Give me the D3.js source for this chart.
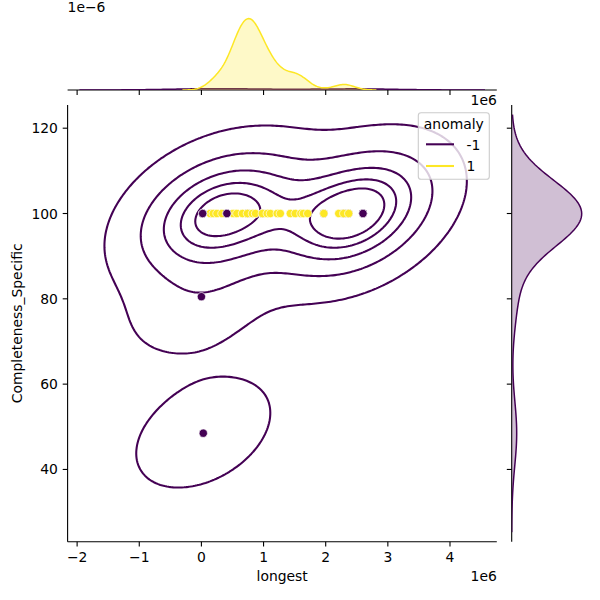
<!DOCTYPE html>
<html><head><meta charset="utf-8">
<script src="https://cdn.jsdelivr.net/npm/d3@7"></script>
<style>body{margin:0;background:#fff} text{font-family:"DejaVu Sans",sans-serif;fill:#000}</style>
</head><body>
<svg id="c" width="600" height="600"></svg>
<script>
// ---------- data (longest in raw units, Completeness_Specific in %) ----------
const purpleX = [20000,20000,20000,410000,410000,740000,980000,1970000,2290000,2370000,2600000,2600000,2600000,2600000,0,30000];
const purpleY = [100,100,100,100,100,100,100,100,100,100,100,100,100,100,80.5,48.5];
const yellowX = [140000,190000,250000,330000,510000,570000,660000,740000,820000,870000,980000,1060000,1110000,1220000,1270000,1430000,1510000,1600000,1640000,1710000,1970000,2210000,2290000,2370000];
const yellowCount = [2,2,4,10,16,18,22,24,22,20,18,10,8,8,6,8,6,4,4,2,1,2,3,3];
const yellowY = 100;
const xTicks = [-2,-1,0,1,2,3,4];
const yTicks = [40,60,80,100,120];
const hueLabels = ["-1","1"];
const hueColors = ["#440154","#fde725"];
const isoProps = [0.05,0.24,0.43,0.62,0.81];

// ---------- layout ----------
const J = {x0:67.6, x1:496.8, y0:105, y1:541.7};
const TM = {y0:15, y1:90};
const RM = {x0:511.7, x1:585.2};
const FS = 13.9;
const svg = d3.select("#c");

// ---------- KDE helpers ----------
function kde2d(xs, ys, G){
  const n = xs.length, mx = d3.mean(xs), my = d3.mean(ys);
  let sxx=0, syy=0, sxy=0;
  for(let i=0;i<n;i++){const dx=xs[i]-mx, dy=ys[i]-my; sxx+=dx*dx; syy+=dy*dy; sxy+=dx*dy;}
  sxx/=(n-1); syy/=(n-1); sxy/=(n-1);
  const f2 = Math.pow(n,-2/6);
  const a=sxx*f2, b=sxy*f2, c=syy*f2, det=a*c-b*b;
  const ia=c/det, ib=-b/det, ic=a/det;
  const bwx=Math.sqrt(a), bwy=Math.sqrt(c);
  const gx0=d3.min(xs)-3*bwx, gx1=d3.max(xs)+3*bwx;
  const gy0=d3.min(ys)-3*bwy, gy1=d3.max(ys)+3*bwy;
  const dx=(gx1-gx0)/(G-1), dy=(gy1-gy0)/(G-1);
  const norm=1/(2*Math.PI*Math.sqrt(det)*n);
  const vals=new Float64Array(G*G);
  for(let j=0;j<G;j++){const y=gy0+j*dy;
    for(let i=0;i<G;i++){const x=gx0+i*dx; let s=0;
      for(let k=0;k<n;k++){const u=x-xs[k], v=y-ys[k]; s+=Math.exp(-0.5*(ia*u*u+2*ib*u*v+ic*v*v));}
      vals[j*G+i]=s*norm;}}
  return {vals,gx0,gx1,gy0,gy1,dx,dy,G};
}
function kde1d(v, w, G){
  const n=d3.sum(w), m=d3.sum(v,(d,i)=>d*w[i])/n;
  const vr=d3.sum(v,(d,i)=>w[i]*(d-m)*(d-m))/(n-1);
  const bw=Math.sqrt(vr)*Math.pow(n,-0.2);
  const g0=d3.min(v)-3*bw, g1=d3.max(v)+3*bw;
  const pts=[];
  for(let i=0;i<G;i++){const g=g0+i*(g1-g0)/(G-1); let s=0;
    for(let k=0;k<v.length;k++){const z=(g-v[k])/bw; s+=w[k]*Math.exp(-0.5*z*z);}
    pts.push([g, s/(n*bw*Math.sqrt(2*Math.PI))]);}
  return pts;
}

// ---------- joint KDE (hue -1 only; hue 1 has zero variance in y) ----------
const K = kde2d(purpleX, purpleY, 200);
const x = d3.scaleLinear().domain([K.gx0,K.gx1]).range([J.x0,J.x1]);
const y = d3.scaleLinear().domain([K.gy0,K.gy1]).range([J.y1,J.y0]);

const sorted = Array.from(K.vals).sort((a,b)=>b-a);
const tot = d3.sum(sorted); let cum=0;
const cums = sorted.map(v=>(cum+=v)/tot);
const levels = isoProps.map(q=>sorted[Math.min(d3.bisectLeft(cums,1-q),sorted.length-1)]);

const proj = d3.geoTransform({point(px,py){
  this.stream.point(x(K.gx0+(px-0.5)*K.dx), y(K.gy0+(py-0.5)*K.dy));}});
const gpath = d3.geoPath(proj);
svg.append("clipPath").attr("id","jc").append("rect")
  .attr("x",J.x0).attr("y",J.y0).attr("width",J.x1-J.x0).attr("height",J.y1-J.y0);
const conts = d3.contours().size([K.G,K.G]).thresholds(levels)(K.vals);
svg.append("g").attr("clip-path","url(#jc)").selectAll("path").data(conts).join("path")
  .attr("d",gpath).attr("fill","none").attr("stroke",hueColors[0]).attr("stroke-width",2.08)
  .attr("stroke-linejoin","round");

// scatter: purple lying under yellow first, then yellow, then the remaining purple
const purplePts = purpleX.map((d,i)=>({x:d,y:purpleY[i],h:0}));
const under = purplePts.filter(p=>p.y===yellowY && yellowX.includes(p.x));
const over = purplePts.filter(p=>!(p.y===yellowY && yellowX.includes(p.x)));
const pts = under.concat(yellowX.map(d=>({x:d,y:yellowY,h:1}))).concat(over);
svg.append("g").selectAll("circle").data(pts).join("circle")
  .attr("cx",d=>x(d.x)).attr("cy",d=>y(d.y)).attr("r",4.17)
  .attr("fill",d=>hueColors[d.h]).attr("stroke","#fff").attr("stroke-width",0.67);

// joint axes
const ax = svg.append("g").attr("stroke","#000");
ax.append("line").attr("x1",J.x0).attr("x2",J.x0).attr("y1",J.y0).attr("y2",J.y1).attr("stroke-width",1.1);
ax.append("line").attr("x1",J.x0).attr("x2",J.x1).attr("y1",J.y1).attr("y2",J.y1).attr("stroke-width",1.1);
xTicks.forEach(t=>{const px=x(t*1e6);
  ax.append("line").attr("x1",px).attr("x2",px).attr("y1",J.y1).attr("y2",J.y1+4.9).attr("stroke-width",1.1);
  ax.append("line").attr("x1",px).attr("x2",px).attr("y1",TM.y1).attr("y2",TM.y1+4.9).attr("stroke-width",1.1);
  svg.append("text").attr("x",px).attr("y",J.y1+9.7).attr("dy","0.76em").attr("text-anchor","middle")
    .attr("font-size",FS).text(t<0?"\u2212"+(-t):t);});
yTicks.forEach(t=>{const py=y(t);
  ax.append("line").attr("x1",J.x0-4.9).attr("x2",J.x0).attr("y1",py).attr("y2",py).attr("stroke-width",1.1);
  ax.append("line").attr("x1",RM.x0-4.9).attr("x2",RM.x0).attr("y1",py).attr("y2",py).attr("stroke-width",1.1);
  svg.append("text").attr("x",J.x0-9.7).attr("y",py).attr("dy","0.36em").attr("text-anchor","end")
    .attr("font-size",FS).text(t);});
svg.append("text").attr("x",(J.x0+J.x1)/2).attr("y",581).attr("text-anchor","middle").attr("font-size",FS).text("longest");
svg.append("text").attr("x",J.x1).attr("y",581).attr("text-anchor","end").attr("font-size",FS).text("1e6");
svg.append("text").attr("transform",`translate(21.5,${(J.y0+J.y1)/2}) rotate(-90)`).attr("text-anchor","middle")
  .attr("font-size",FS).text("Completeness_Specific");

// ---------- top marginal (x, common norm) ----------
const Ntot = purpleX.length + d3.sum(yellowCount);
const topP = kde1d(purpleX, purpleX.map(()=>1), 200).map(([g,d])=>[g,d*purpleX.length/Ntot]);
const topY = kde1d(yellowX, yellowCount, 200).map(([g,d])=>[g,d*d3.sum(yellowCount)/Ntot]);
const tmax = d3.max(topP.concat(topY),d=>d[1]);
const ty = d3.scaleLinear().domain([0,tmax*1.05]).range([TM.y1,TM.y0]);
svg.append("clipPath").attr("id","tc").append("rect").attr("x",J.x0).attr("y",TM.y0).attr("width",J.x1-J.x0).attr("height",TM.y1-TM.y0);
const tg = svg.append("g").attr("clip-path","url(#tc)");
[[topP,0],[topY,1]].forEach(([c,h])=>{
  tg.append("path").attr("d",d3.area().x(d=>x(d[0])).y0(TM.y1).y1(d=>ty(d[1]))(c))
    .attr("fill",hueColors[h]).attr("fill-opacity",0.25).attr("stroke","none");
  tg.append("path").attr("d",d3.line().x(d=>x(d[0])).y(d=>ty(d[1]))(c))
    .attr("fill","none").attr("stroke",hueColors[h]).attr("stroke-width",1.5);});
ax.append("line").attr("x1",J.x0).attr("x2",J.x1).attr("y1",TM.y1).attr("y2",TM.y1).attr("stroke-width",1.1);
svg.append("text").attr("x",J.x0).attr("y",11.7).attr("font-size",FS).text("1e\u22126");
svg.append("text").attr("x",J.x1).attr("y",104.7).attr("text-anchor","end").attr("font-size",FS).text("1e6");

// ---------- right marginal (y, hue -1 only) ----------
const rP = kde1d(purpleY, purpleY.map(()=>1), 200);
const rx = d3.scaleLinear().domain([0,d3.max(rP,d=>d[1])*1.05]).range([RM.x0,RM.x1]);
svg.append("clipPath").attr("id","rc").append("rect").attr("x",RM.x0).attr("y",J.y0).attr("width",RM.x1-RM.x0).attr("height",J.y1-J.y0);
const rg = svg.append("g").attr("clip-path","url(#rc)");
rg.append("path").attr("d",d3.area().y(d=>y(d[0])).x0(RM.x0).x1(d=>rx(d[1]))(rP))
  .attr("fill",hueColors[0]).attr("fill-opacity",0.25);
rg.append("path").attr("d",d3.line().y(d=>y(d[0])).x(d=>rx(d[1]))(rP))
  .attr("fill","none").attr("stroke",hueColors[0]).attr("stroke-width",1.5);
ax.append("line").attr("x1",RM.x0).attr("x2",RM.x0).attr("y1",J.y0).attr("y2",J.y1).attr("stroke-width",1.1);

// ---------- legend ----------
const lg = svg.append("g");
lg.append("rect").attr("x",418.3).attr("y",112.7).attr("width",71).attr("height",66.6).attr("rx",2.8)
  .attr("fill","#fff").attr("fill-opacity",0.8).attr("stroke","#cccccc").attr("stroke-width",1.1);
lg.append("text").attr("x",453.8).attr("y",128.5).attr("text-anchor","middle").attr("font-size",FS).text("anomaly");
hueLabels.forEach((l,i)=>{const yy=144.3+i*21.7;
  lg.append("line").attr("x1",426).attr("x2",454).attr("y1",yy).attr("y2",yy).attr("stroke",hueColors[i]).attr("stroke-width",2.08);
  lg.append("text").attr("x",466.5).attr("y",yy+5.2).attr("font-size",FS).text(l);});
</script></body></html>
